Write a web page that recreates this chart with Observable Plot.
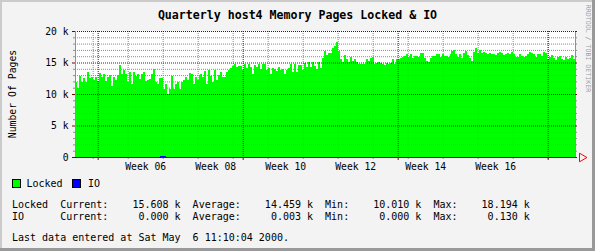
<!DOCTYPE html>
<html><head><meta charset="utf-8">
<script src="https://cdn.jsdelivr.net/npm/d3@7"></script>
<script src="https://cdn.jsdelivr.net/npm/@observablehq/plot@0.6"></script>
<style>
html,body{margin:0;padding:0;background:#f3f3f3;}
#chart svg{display:block;}
</style></head><body><div id="chart"></div>
<script>
// ---- data ----
const title = "Quarterly host4 Memory Pages Locked & IO";
const yTitle = "Number Of Pages";
const credit = "RRDTOOL / TOBI OETIKER";
const lastUpdateText = "Last data entered at Sat May  6 11:10:04 2000.";
const lastUpdate = new Date(Date.UTC(2000, 4, 6, 11, 10, 4));
const spanDays = 100;

// Locked pages (thousands), evenly spaced over the quarter
const lockedK = [
11.88,10.97,12.80,11.88,12.58,11.88,13.49,12.58,12.69,12.15,
12.69,12.04,13.33,12.69,13.23,12.04,12.69,12.96,11.34,12.69,
12.15,13.06,14.57,13.23,13.76,13.23,11.88,13.49,11.61,13.49,
12.85,13.23,12.42,13.23,13.49,12.04,12.15,12.42,13.23,14.03,
11.88,11.61,12.58,12.58,10.81,11.61,10.01,10.81,12.85,10.81,
11.61,11.88,10.81,11.88,12.26,12.69,12.15,13.33,13.12,11.61,
12.69,12.15,12.96,13.23,12.69,13.66,11.61,13.87,12.85,11.88,
13.87,12.26,13.06,13.49,12.69,12.69,13.49,13.76,14.14,14.41,
14.73,14.30,14.46,14.41,13.76,14.84,14.19,14.84,14.30,13.23,
14.57,14.30,14.84,14.03,14.73,14.73,13.76,14.19,13.23,14.19,
14.03,13.66,14.30,13.87,14.03,13.23,13.87,14.19,14.84,13.49,
14.73,13.49,14.57,14.57,13.87,14.95,14.30,15.11,14.30,15.11,
14.41,14.03,15.11,14.19,15.65,
16.88,16.18,16.56,16.56,17.26,17.63,18.19,16.88,15.48,15.11,
16.18,15.48,15.11,15.91,15.27,15.48,15.11,14.84,14.73,14.84,
14.84,15.48,15.22,15.65,15.91,14.84,15.00,15.11,14.95,14.84,
14.57,15.00,14.84,14.95,15.48,14.84,15.48,15.48,15.65,15.81,
16.02,16.29,15.91,16.34,15.65,16.02,16.08,15.91,16.45,16.45,
15.65,15.27,15.11,15.65,16.02,16.02,16.34,16.34,15.91,16.34,
16.02,16.02,15.81,16.34,16.88,16.99,16.34,15.91,16.34,15.65,
16.45,16.88,16.18,15.65,15.27,16.72,17.26,16.45,16.99,16.56,
16.72,16.45,16.34,16.45,16.34,16.34,16.18,16.56,16.72,16.45,
16.18,16.34,16.56,16.34,16.67,16.34,15.91,15.91,16.34,16.02,
15.81,16.02,16.34,16.67,16.45,16.34,15.91,16.34,16.34,16.02,
16.67,16.45,15.48,15.81,16.13,15.65,15.38,15.81,16.02,15.48,
15.38,15.81,15.48,15.65,16.13,15.61];

// IO (thousands), evenly spaced over the quarter
const ioK = [
0,0,0,0,0,0,0,0,0,0,0,0,0,0,0,0,0,0.13,0,0,
0,0,0,0,0,0,0,0,0,0,0,0,0,0,0,0,0,0,0,0,
0,0,0,0,0,0,0,0,0,0,0,0,0,0,0,0,0,0,0,0,
0,0,0,0,0,0,0,0,0,0,0,0,0,0,0,0,0,0,0.04,0,
0,0,0,0,0,0,0,0,0,0,0,0,0,0,0,0,0,0,0,0];

const yMajor = [0, 5, 10, 15, 20];
const yTickLabels = ["0", "5 k", "10 k", "15 k", "20 k"];
const yMinor = [1,2,3,4,6,7,8,9,11,12,13,14,16,17,18,19];
const weekNumbers = [6, 8, 10, 12, 14, 16];
const weekLabels = ["Week 06", "Week 08", "Week 10", "Week 12", "Week 14", "Week 16"];

const seriesNames = ["Locked", "IO"];
const seriesColors = ["#00ff00", "#0000ff"];
const statCurrent = [15.608, 0.000];
const statAverage = [14.459, 0.003];
const statMin = [10.010, 0.000];
const statMax = [18.194, 0.130];

// ---- derived ----
const DAY = 864e5;
const start = new Date(+lastUpdate - spanDays * DAY);
function series(vals) {
  const step = (lastUpdate - start) / vals.length;
  const out = vals.map((v, i) => ({t: new Date(+start + i * step), v}));
  out.push({t: lastUpdate, v: vals[vals.length - 1]});
  return out;
}
const lockedData = series(lockedK);
const ioData = series(ioK);
const mondays = d3.utcMonday.range(start, new Date(+lastUpdate + 1));
const months = d3.utcMonth.range(start, lastUpdate);
const isoWeek1 = Date.UTC(2000, 0, 3);
const weekDates = weekNumbers.map(n => new Date(isoWeek1 + ((n - 1) * 7 + 3.5) * DAY));
const out2 = 0.4 * DAY, out3 = 0.6 * DAY;

const GRID = "#8c8c8c", MGRID = "#800000", FONT = "'DejaVu Sans Mono', monospace";

const chart = Plot.plot({
  width: 595, height: 251,
  marginLeft: 75, marginRight: 20, marginTop: 31, marginBottom: 94,
  x: {type: "utc", domain: [start, lastUpdate], axis: null},
  y: {domain: [0, 20], axis: null},
  style: {background: "#f3f3f3", fontFamily: FONT, overflow: "visible"},
  marks: [
    Plot.frame({fill: "#ffffff", stroke: "none"}),
    Plot.areaY(lockedData, {x: "t", y: "v", curve: "step-after", fill: seriesColors[0], shapeRendering: "crispEdges"}),
    Plot.ruleY(yMinor, {stroke: GRID, strokeDasharray: "1,1"}),
    Plot.ruleX(mondays, {stroke: GRID, strokeDasharray: "1,1"}),
    Plot.ruleY(yMajor.slice(1), {stroke: MGRID, strokeDasharray: "1,1"}),
    Plot.ruleX(months, {stroke: MGRID, strokeDasharray: "1,1"}),
    // left & right axes with ticks
    Plot.ruleX([start, lastUpdate], {y1: 0, y2: 20, stroke: "#909090"}),
    Plot.ruleY(yMinor, {x1: () => new Date(+start - out2), x2: () => start, stroke: GRID}),
    Plot.ruleY(yMinor, {x1: () => lastUpdate, x2: () => new Date(+lastUpdate + out2), stroke: GRID}),
    Plot.ruleY(yMajor.slice(1), {x1: () => new Date(+start - out3), x2: () => start, stroke: MGRID}),
    Plot.ruleY(yMajor.slice(1), {x1: () => lastUpdate, x2: () => new Date(+lastUpdate + out2), stroke: MGRID}),
    // bottom ticks
    Plot.ruleX(mondays, {y1: () => -0.32, y2: () => 0, stroke: GRID}),
    Plot.ruleX(months, {y1: () => -0.48, y2: () => 0, stroke: MGRID}),
    // x axis line + arrow
    Plot.ruleY([0], {x1: () => new Date(+start - out3), x2: () => new Date(+lastUpdate + out2), stroke: MGRID}),
    Plot.lineY(ioData, {x: "t", y: "v", curve: "step-after", stroke: seriesColors[1], strokeWidth: 1, shapeRendering: "crispEdges"}),
    Plot.dot([0], {x: () => lastUpdate, y: () => 0, symbol: "triangle", rotate: 90, r: 3.2, dx: 6.5, stroke: "#ff0000", fill: "none", strokeWidth: 1}),
    // tick labels
    Plot.text(yTickLabels, {x: () => start, y: (d, i) => yMajor[i], text: d => d, textAnchor: "end", dx: -7, fontSize: 9.7, fill: "#000", fontFamily: FONT}),
    Plot.text(weekLabels, {x: (d, i) => weekDates[i], y: () => 0, text: d => d, dy: 9.5, fontSize: 9.7, fill: "#000", fontFamily: FONT})
  ]
});
document.getElementById("chart").appendChild(chart);

// ---- decorations: border, title, legend ----
const svg = d3.select(chart);
const deco = svg.append("g");
deco.append("rect").attr("x", 0).attr("y", 0).attr("width", 595).attr("height", 2).attr("fill", "#cbcbcb");
deco.append("rect").attr("x", 0).attr("y", 0).attr("width", 2).attr("height", 251).attr("fill", "#cbcbcb");
deco.append("rect").attr("x", 0).attr("y", 248).attr("width", 595).attr("height", 3).attr("fill", "#999999");
deco.append("rect").attr("x", 592).attr("y", 0).attr("width", 3).attr("height", 251).attr("fill", "#999999");

const g = svg.append("g").attr("font-family", FONT).attr("fill", "#000").attr("text-anchor", "start");
g.append("text").attr("x", 297.5).attr("y", 15).attr("text-anchor", "middle")
  .attr("dominant-baseline", "central").attr("font-size", 11.6).attr("font-weight", "bold").text(title);
g.append("text").attr("transform", "translate(12.5,94) rotate(-90)").attr("text-anchor", "middle")
  .attr("dominant-baseline", "central").attr("font-size", 9.8).text(yTitle);
g.append("text").attr("transform", "translate(588,48.5) rotate(90)").attr("text-anchor", "middle")
  .attr("dominant-baseline", "central").attr("font-size", 6.6).attr("fill", "#a0a0a0").text(credit);

// legend swatches
const swX = [12.5, 72.5], lblX = [26.5, 88];
seriesNames.forEach((name, i) => {
  g.append("rect").attr("x", swX[i]).attr("y", 179.5).attr("width", 8).attr("height", 8)
    .attr("fill", seriesColors[i]).attr("stroke", "#000").attr("stroke-width", 1);
  g.append("text").attr("x", lblX[i]).attr("y", 183.5).attr("text-anchor", "start").attr("dominant-baseline", "central")
    .attr("font-size", 10).text(name);
});

// stats lines
const f = v => (v.toFixed(3)).padStart(10, " ") + " k";
const statRowY = [204, 216.7];
seriesNames.forEach((name, i) => {
  const line = name.padEnd(8, " ") + "Current:" + f(statCurrent[i]) + "  Average:" + f(statAverage[i]) +
    "  Min:" + f(statMin[i]) + "  Max:" + f(statMax[i]);
  g.append("text").attr("x", 12).attr("y", statRowY[i]).attr("text-anchor", "start").attr("dominant-baseline", "central")
    .attr("font-size", 10).attr("xml:space", "preserve").style("white-space", "pre").text(line);
});
g.append("text").attr("x", 12).attr("y", 237.7).attr("text-anchor", "start").attr("dominant-baseline", "central")
  .attr("font-size", 10).attr("xml:space", "preserve").style("white-space", "pre").text(lastUpdateText);
</script>
</body></html>
